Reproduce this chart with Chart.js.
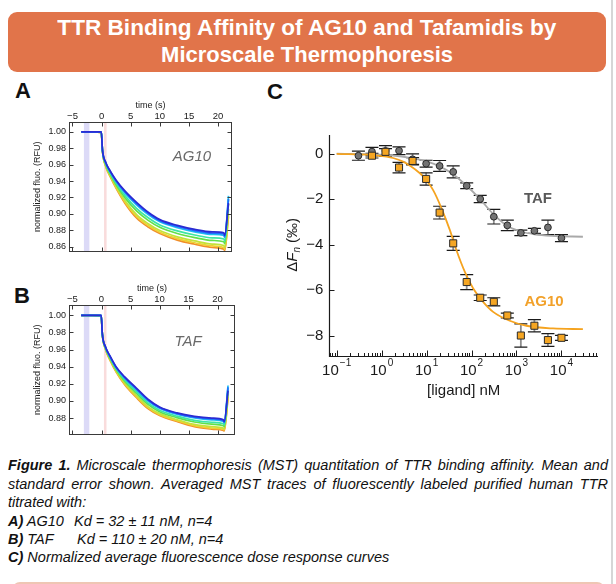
<!DOCTYPE html>
<html><head><meta charset="utf-8">
<script src="https://cdn.jsdelivr.net/npm/chart.js@4.4.0/dist/chart.umd.min.js"></script>
<style>
html,body{margin:0;padding:0;background:#fff;}
body{width:616px;height:584px;position:relative;overflow:hidden;font-family:"Liberation Sans",Arial,sans-serif;}
#banner{position:absolute;left:8px;top:12px;width:598px;height:60px;background:#e1744a;border-radius:9px;}
.tline{position:absolute;left:0;width:614px;text-align:center;color:#fff;font-weight:bold;font-size:22px;line-height:26px;white-space:nowrap;}
.tline span{display:inline-block;transform-origin:center center;}
.plabel{position:absolute;font-weight:bold;font-size:22px;color:#111;transform:translate(-50%,-50%);line-height:1;}
.ann{position:absolute;transform:translate(-50%,-50%);white-space:nowrap;line-height:1;}
.cap{position:absolute;left:8px;font-style:italic;font-size:14.5px;white-space:nowrap;color:#111;line-height:18px;}
.cap span{display:inline-block;transform-origin:left center;}
canvas{position:absolute;}
#rightrule{position:absolute;left:611px;top:0;width:2px;height:584px;background:#d6d6d6;}
#nextbox{position:absolute;left:12px;top:582px;width:593px;height:10px;border-top:2px solid #efc6b4;border-left:2px solid #efc6b4;border-right:2px solid #efc6b4;border-radius:8px 8px 0 0;box-sizing:border-box;}
</style></head><body>

<div id="banner"></div>
<div class="tline" style="top:15px"><span data-fit="499">TTR Binding Affinity of AG10 and Tafamidis by</span></div>
<div class="tline" style="top:42px"><span data-fit="292">Microscale Thermophoresis</span></div>

<div class="plabel" style="left:23px;top:91px">A</div>
<div class="plabel" style="left:22px;top:296px">B</div>
<div class="plabel" style="left:275px;top:92px">C</div>

<canvas id="chartA" width="260" height="165" style="left:0;top:95px"></canvas>
<canvas id="chartB" width="260" height="165" style="left:0;top:278px"></canvas>
<canvas id="chartC" width="340" height="300" style="left:270px;top:100px"></canvas>

<div class="ann" style="left:192px;top:155px;font-style:italic;font-size:15px;color:#6a6a6a">AG10</div>
<div class="ann" style="left:188px;top:340px;font-style:italic;font-size:15px;color:#6a6a6a">TAF</div>
<div class="ann" style="left:538px;top:197px;font-weight:bold;font-size:15px;color:#595959">TAF</div>
<div class="ann" style="left:544px;top:300px;font-weight:bold;font-size:15px;color:#f2a12a">AG10</div>

<div class="cap" style="top:456px" data-just="600"><span><b>Figure 1.</b> Microscale thermophoresis (MST) quantitation of TTR binding affinity. Mean and</span></div>
<div class="cap" style="top:475px" data-just="600"><span>standard error shown. Averaged MST traces of fluorescently labeled purified human TTR</span></div>
<div class="cap" style="top:493px"><span>titrated with:</span></div>
<div class="cap" style="top:512px"><span><b>A)</b> AG10</span></div>
<div class="cap" style="top:512px;left:74px"><span>Kd = 32 ± 11 nM, n=4</span></div>
<div class="cap" style="top:530px"><span><b>B)</b> TAF</span></div>
<div class="cap" style="top:530px;left:77px"><span>Kd = 110 ± 20 nM, n=4</span></div>
<div class="cap" style="top:548px"><span><b>C)</b> Normalized average fluorescence dose response curves</span></div>

<div id="rightrule"></div>
<div id="nextbox"></div>

<script>
// ---------- Panel A / B : MST traces (time in s, normalized fluorescence) ----------
const mstTime = [-3.5, -1.5, -0.05, 0.15, 0.7, 1.5, 2.5, 4, 6, 8, 10, 13, 16, 19, 21, 21.15, 21.8];

const ag10Traces = [
  [1.0000,1.0000,1.0000,0.9780,0.9630,0.9520,0.9410,0.9280,0.9140,0.9020,0.8930,0.8860,0.8810,0.8780,0.8770,0.8740,0.913],
  [1.0000,1.0000,0.9999,0.9778,0.9626,0.9514,0.9402,0.9268,0.9125,0.9006,0.8916,0.8846,0.8796,0.8765,0.8754,0.8725,0.918],
  [1.0000,1.0000,0.9998,0.9777,0.9622,0.9509,0.9394,0.9256,0.9110,0.8991,0.8903,0.8831,0.8781,0.8750,0.8738,0.8710,0.922],
  [1.0000,1.0000,0.9996,0.9772,0.9611,0.9493,0.9372,0.9223,0.9068,0.8952,0.8865,0.8792,0.8742,0.8708,0.8694,0.8668,0.918],
  [1.0000,1.0000,0.9995,0.9769,0.9603,0.9482,0.9355,0.9198,0.9036,0.8921,0.8837,0.8761,0.8711,0.8676,0.8660,0.8636,0.912],
  [1.0000,1.0000,0.9992,0.9764,0.9591,0.9465,0.9332,0.9163,0.8992,0.8880,0.8797,0.8720,0.8670,0.8632,0.8614,0.8592,0.906],
  [1.0000,1.0000,0.9991,0.9762,0.9585,0.9457,0.9320,0.9145,0.8969,0.8858,0.8777,0.8698,0.8648,0.8609,0.8590,0.8569,0.900],
  [1.0000,1.0000,0.9990,0.9760,0.9580,0.9450,0.9310,0.9130,0.8950,0.8840,0.8760,0.8680,0.8630,0.8590,0.8570,0.8550,0.897]
];

const tafTraces = [
  [1.0000,1.0000,1.0000,0.9780,0.9630,0.9520,0.9400,0.9280,0.9150,0.9020,0.8930,0.8860,0.8820,0.8800,0.8780,0.8760,0.912],
  [1.0000,1.0000,0.9999,0.9779,0.9628,0.9516,0.9395,0.9273,0.9141,0.9011,0.8922,0.8852,0.8810,0.8790,0.8770,0.8751,0.916],
  [1.0000,1.0000,0.9998,0.9778,0.9625,0.9512,0.9390,0.9266,0.9132,0.9002,0.8914,0.8844,0.8801,0.8779,0.8760,0.8742,0.918],
  [1.0000,1.0000,0.9996,0.9776,0.9619,0.9501,0.9377,0.9246,0.9108,0.8978,0.8892,0.8822,0.8774,0.8751,0.8733,0.8718,0.915],
  [1.0000,1.0000,0.9995,0.9775,0.9614,0.9493,0.9367,0.9231,0.9090,0.8960,0.8875,0.8805,0.8754,0.8729,0.8711,0.8700,0.912],
  [1.0000,1.0000,0.9992,0.9772,0.9607,0.9481,0.9353,0.9210,0.9064,0.8934,0.8852,0.8782,0.8726,0.8699,0.8683,0.8674,0.908],
  [1.0000,1.0000,0.9991,0.9771,0.9603,0.9475,0.9346,0.9199,0.9051,0.8921,0.8840,0.8770,0.8712,0.8683,0.8668,0.8661,0.905],
  [1.0000,1.0000,0.9990,0.9770,0.9600,0.9470,0.9340,0.9190,0.9040,0.8910,0.8830,0.8760,0.8700,0.8670,0.8655,0.8650,0.903]
];

const traceColors = ['#2b2bd2','#1f6cff','#1fbef0','#3de6a4','#62e04a','#c4e23a','#f0cf33','#f08d2a'];

const mstTimeTicks = [-5, 0, 5, 10, 15, 20];
const mstTimeTickLabels = ['\u22125', '0', '5', '10', '15', '20'];
const ag10FluoTicks = [0.86, 0.88, 0.90, 0.92, 0.94, 0.96, 0.98, 1.00];
const ag10FluoTickLabels = ['0.86', '0.88', '0.90', '0.92', '0.94', '0.96', '0.98', '1.00'];
const tafFluoTicks = [0.88, 0.90, 0.92, 0.94, 0.96, 0.98, 1.00];
const tafFluoTickLabels = ['0.88', '0.90', '0.92', '0.94', '0.96', '0.98', '1.00'];
const coldWindow = [-3.04, -2.1];
const hotWindow = [0.42, 0.86];

// ---------- Panel C : dose response ----------
const concTAF = [0.305, 0.61, 1.22, 2.44, 4.88, 9.77, 19.5, 39.1, 78.1, 156, 313, 625, 1250, 2500, 5000, 10000];
const dFTAF   = [-0.09, 0.09, 0.12, 0.13, -0.25, -0.44, -0.54, -0.80, -1.41, -1.99, -2.77, -3.15, -3.48, -3.39, -3.24, -3.71];
const errTAF  = [0.20, 0.19, 0.23, 0.17, 0.24, 0.15, 0.24, 0.26, 0.13, 0.16, 0.32, 0.23, 0.12, 0.11, 0.32, 0.15];

const concAG10 = [0.61, 1.22, 2.44, 4.88, 9.77, 19.5, 39.1, 78.1, 156, 313, 625, 1250, 2500, 5000, 10000];
const dFAG10   = [-0.09, 0.08, -0.61, -0.32, -1.11, -2.59, -3.94, -5.64, -6.33, -6.51, -7.11, -7.99, -7.56, -8.19, -8.09];
const errAG10  = [0.10, 0.14, 0.23, 0.15, 0.27, 0.28, 0.31, 0.33, 0.12, 0.18, 0.10, 0.51, 0.27, 0.28, 0.11];

const fitConcAG10 = [0.1, 0.62, 1.3, 1.8, 3.0, 4.3, 7.1, 8.4, 14, 21.5, 33, 46, 71, 109, 181, 302, 708, 1660, 6500, 30000];
const fitAG10     = [-0.01, -0.06, -0.13, -0.19, -0.35, -0.53, -0.86, -1.0, -1.60, -2.40, -3.36, -4.23, -5.19, -5.92, -6.51, -6.95, -7.34, -7.56, -7.68, -7.71];
const fitConcTAF  = [0.1, 0.62, 1.8, 4.3, 10, 19.5, 39, 78, 155, 302, 625, 1250, 2500, 6000, 30000];
const fitTAF      = [0.0, -0.03, -0.08, -0.18, -0.34, -0.56, -0.90, -1.41, -2.0, -2.65, -3.18, -3.42, -3.54, -3.61, -3.65];

const doseYTicks = [-8, -6, -4, -2, 0];
const doseYTickLabels = ['\u22128', '\u22126', '\u22124', '\u22122', '0'];
const doseXDecades = [0.1, 1, 10, 100, 1000, 10000];
const doseXExponents = ['\u22121', '0', '1', '2', '3', '4'];

const FONT = '"Liberation Sans", Arial, Helvetica, sans-serif';
Chart.defaults.font.family = FONT;
Chart.defaults.color = '#1a1a1a';

const mstDecor = {
  id: 'mstDecor',
  beforeDatasetsDraw(chart) {
    const {ctx, chartArea: a, scales: {x}} = chart;
    const px = v => x.getPixelForValue(v);
    ctx.save();
    ctx.fillStyle = '#dcdaf7';
    ctx.fillRect(px(coldWindow[0]), a.top, px(coldWindow[1]) - px(coldWindow[0]), a.bottom - a.top);
    ctx.fillStyle = '#f9dcdc';
    ctx.fillRect(px(hotWindow[0]), a.top, px(hotWindow[1]) - px(hotWindow[0]), a.bottom - a.top);
    ctx.restore();
  },
  afterDatasetsDraw(chart) {
    const {ctx, chartArea: a, scales: {x, y}} = chart;
    ctx.save();
    ctx.strokeStyle = '#3a3a3a';
    ctx.lineWidth = 1;
    const L = Math.round(a.left) + 0.5, R = Math.round(a.right) - 0.5, T = Math.round(a.top) + 0.5, B = Math.round(a.bottom) - 0.5;
    ctx.strokeRect(L, T, R - L, B - T);
    ctx.beginPath();
    x.ticks.forEach(t => {
      const p = Math.round(x.getPixelForValue(t.value)) + 0.5;
      ctx.moveTo(p, T); ctx.lineTo(p, T + 4);
      ctx.moveTo(p, B); ctx.lineTo(p, B - 4);
    });
    y.ticks.forEach(t => {
      const p = Math.round(y.getPixelForValue(t.value)) + 0.5;
      ctx.moveTo(L, p); ctx.lineTo(L + 4, p);
      ctx.moveTo(R, p); ctx.lineTo(R - 4, p);
    });
    ctx.stroke();
    ctx.restore();
  }
};

function mstChart(id, traces, yTicks, yLabels, yMin, yMax, xMax, padRight) {
  return new Chart(document.getElementById(id), {
    type: 'line',
    data: {
      datasets: traces.map((vals, i) => ({
        data: mstTime.map((t, j) => ({x: t, y: vals[j]})),
        borderColor: traceColors[i],
        borderWidth: 1.7,
        pointRadius: 0,
        cubicInterpolationMode: 'monotone',
        fill: false
      }))
    },
    options: {
      animation: false, responsive: false, devicePixelRatio: 1, events: [],
      layout: {padding: {left: 0, right: padRight, top: 0, bottom: 2}},
      plugins: {legend: {display: false}, tooltip: {enabled: false}},
      scales: {
        x: {
          type: 'linear', position: 'top', min: -5.6, max: xMax,
          grid: {display: false, drawTicks: false}, border: {display: false},
          ticks: {padding: 0, color: '#1a1a1a', font: {size: 9.5}, autoSkip: false, maxRotation: 0,
                  callback: (v, i) => mstTimeTickLabels[i]},
          afterBuildTicks: s => { s.ticks = mstTimeTicks.map(v => ({value: v})); },
          afterFit: s => { s.height = 27; },
          title: {display: true, text: 'time (s)', color: '#1a1a1a', font: {size: 9}, padding: {top: 5, bottom: 0}}
        },
        y: {
          type: 'linear', min: yMin, max: yMax,
          grid: {display: false, drawTicks: false}, border: {display: false},
          ticks: {padding: 3, color: '#1a1a1a', font: {size: 9}, autoSkip: false,
                  callback: (v, i) => yLabels[i]},
          afterBuildTicks: s => { s.ticks = yTicks.map(v => ({value: v})); },
          afterFit: s => { s.width = 69; },
          title: {display: true, text: 'normalized fluo. (RFU)', color: '#1a1a1a', font: {size: 9}, padding: {top: 32, bottom: 0}}
        }
      }
    },
    plugins: [mstDecor]
  });
}

mstChart('chartA', ag10Traces, ag10FluoTicks, ag10FluoTickLabels, 0.854, 1.012, 22.4, 28);
mstChart('chartB', tafTraces, tafFluoTicks, tafFluoTickLabels, 0.8607, 1.012, 23.0, 25);

// minor log tick positions for the dose axis
const doseMinor = [];
for (let e = -2; e <= 4; e++) for (let m = 1; m <= 9; m++) doseMinor.push(m * Math.pow(10, e));

const doseDecor = {
  id: 'doseDecor',
  beforeDatasetsDraw(chart) {
    const {ctx, scales: {y}} = chart;
    ctx.save();
    chart.data.datasets.forEach((ds, di) => {
      if (!ds.errors) return;
      const meta = chart.getDatasetMeta(di);
      meta.data.forEach((pt, i) => {
        const v = ds.data[i].y, e = ds.errors[i];
        const yt = y.getPixelForValue(v + e), yb = y.getPixelForValue(v - e);
        ctx.strokeStyle = '#8e8e8e'; ctx.lineWidth = 1.8;
        ctx.beginPath(); ctx.moveTo(pt.x, yt); ctx.lineTo(pt.x, yb); ctx.stroke();
        ctx.strokeStyle = '#1a1a1a'; ctx.lineWidth = 1.2;
        ctx.beginPath();
        ctx.moveTo(pt.x - 6.5, yt); ctx.lineTo(pt.x + 6.5, yt);
        ctx.moveTo(pt.x - 6.5, yb); ctx.lineTo(pt.x + 6.5, yb);
        ctx.stroke();
      });
    });
    ctx.restore();
  },
  afterDraw(chart) {
    const {ctx, chartArea: a, scales: {x, y}} = chart;
    ctx.save();
    ctx.strokeStyle = '#1a1a1a';
    ctx.lineWidth = 1.2;
    const L = Math.round(a.left) + 0.5, B = Math.round(a.bottom) - 0.5;
    ctx.beginPath();
    ctx.moveTo(L, a.top); ctx.lineTo(L, B); ctx.lineTo(a.right, B);
    ctx.stroke();
    ctx.lineWidth = 1;
    ctx.beginPath();
    doseMinor.forEach(v => {
      if (v < x.min || v > x.max) return;
      const p = Math.round(x.getPixelForValue(v)) + 0.5;
      const major = Math.abs(Math.log10(v) - Math.round(Math.log10(v))) < 1e-9;
      ctx.moveTo(p, B); ctx.lineTo(p, B - (major ? 6 : 3.5));
    });
    doseYTicks.forEach(v => {
      const p = Math.round(y.getPixelForValue(v)) + 0.5;
      ctx.moveTo(L, p); ctx.lineTo(L + 5, p);
    });
    ctx.stroke();
    // decade labels 10^n
    ctx.fillStyle = '#1a1a1a';
    ctx.textBaseline = 'alphabetic';
    doseXDecades.forEach((v, i) => {
      const p = x.getPixelForValue(v);
      ctx.font = '15px ' + FONT;
      const wb = ctx.measureText('10').width;
      ctx.font = '10px ' + FONT;
      const we = ctx.measureText(doseXExponents[i]).width;
      const sx = p - (wb + 1 + we) / 2;
      ctx.font = '15px ' + FONT;
      ctx.fillText('10', sx, a.bottom + 18);
      ctx.font = '10px ' + FONT;
      ctx.fillText(doseXExponents[i], sx + wb + 1, a.bottom + 9);
    });
    // y title  ΔF_n (‰)
    ctx.translate(23, (a.top + a.bottom) / 2 - 1);
    ctx.rotate(-Math.PI / 2);
    const parts = [
      {t: '\u0394', f: '15px ' + FONT, dy: 0},
      {t: 'F', f: 'italic 15px ' + FONT, dy: 0},
      {t: 'n', f: 'italic 10px ' + FONT, dy: 4},
      {t: ' (\u2030)', f: '15px ' + FONT, dy: 0}
    ];
    let total = 0;
    parts.forEach(p => { ctx.font = p.f; p.w = ctx.measureText(p.t).width; total += p.w; });
    let cx = -total / 2;
    ctx.textBaseline = 'middle';
    parts.forEach(p => { ctx.font = p.f; ctx.fillText(p.t, cx, p.dy); cx += p.w; });
    ctx.restore();
  }
};

new Chart(document.getElementById('chartC'), {
  type: 'scatter',
  data: {
    datasets: [
      {label: 'AG10', data: concAG10.map((c, i) => ({x: c, y: dFAG10[i]})), errors: errAG10,
       pointStyle: 'rect', pointRadius: 5, backgroundColor: '#f5a623', borderColor: '#2a2a2a', borderWidth: 1},
      {label: 'TAF', data: concTAF.map((c, i) => ({x: c, y: dFTAF[i]})), errors: errTAF,
       pointStyle: 'circle', pointRadius: 3.4, backgroundColor: '#737373', borderColor: '#2a2a2a', borderWidth: 1},
      {type: 'line', label: 'AG10 fit', data: fitConcAG10.map((c, i) => ({x: c, y: fitAG10[i]})),
       borderColor: '#f5a31f', borderWidth: 1.8, pointRadius: 0, cubicInterpolationMode: 'monotone', fill: false, showLine: true},
      {type: 'line', label: 'TAF fit', data: fitConcTAF.map((c, i) => ({x: c, y: fitTAF[i]})),
       borderColor: '#a9a9a9', borderWidth: 1.8, pointRadius: 0, cubicInterpolationMode: 'monotone', fill: false, showLine: true}
    ]
  },
  options: {
    animation: false, responsive: false, devicePixelRatio: 1, events: [],
    layout: {padding: {left: 0, right: 12, top: 35, bottom: 0}},
    plugins: {legend: {display: false}, tooltip: {enabled: false}},
    scales: {
      x: {
        type: 'logarithmic', min: 0.0686, max: 65000,
        grid: {display: false, drawTicks: false}, border: {display: false},
        ticks: {display: false},
        afterFit: s => { s.height = 43.3; },
        title: {display: true, text: '[ligand] nM', color: '#1a1a1a', font: {size: 15}, padding: {top: 0, bottom: 0}}
      },
      y: {
        type: 'linear', min: -8.92, max: 0.82,
        grid: {display: false, drawTicks: false}, border: {display: false},
        ticks: {padding: 6, color: '#1a1a1a', font: {size: 15}, autoSkip: false,
                callback: (v, i) => doseYTickLabels[i]},
        afterBuildTicks: s => { s.ticks = doseYTicks.map(v => ({value: v})); },
        afterFit: s => { s.width = 59.3; }
      }
    }
  },
  plugins: [doseDecor]
});

// ---------- text fitting ----------
document.querySelectorAll('[data-fit]').forEach(sp => {
  const w = sp.getBoundingClientRect().width;
  sp.style.transform = 'scaleX(' + (+sp.dataset.fit / w) + ')';
});
document.querySelectorAll('[data-just]').forEach(div => {
  const sp = div.firstElementChild;
  const target = +div.dataset.just;
  const w = sp.getBoundingClientRect().width;
  const n = (sp.textContent.match(/ /g) || []).length;
  if (w < target) sp.style.wordSpacing = ((target - w) / n) + 'px';
  else sp.style.transform = 'scaleX(' + (target / w) + ')';
});
</script>
</body></html>
